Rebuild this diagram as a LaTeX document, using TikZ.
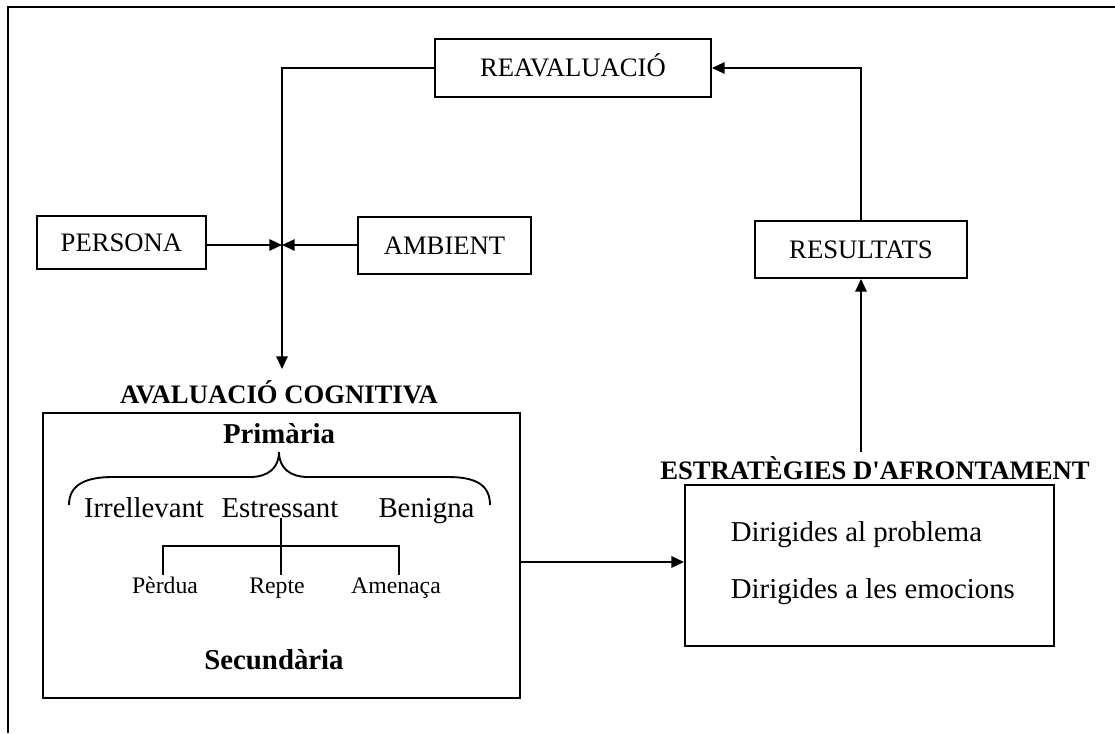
\documentclass[tikz,border=0pt]{standalone}
\usepackage{fontspec}
\setmainfont{Liberation Serif}
\usetikzlibrary{arrows.meta}

\begin{document}
\begin{tikzpicture}[x=0.75pt, y=-0.75pt, line width=1.4pt]
        \tikzstyle{every node}=[inner sep=0pt, font=\fontsize{20}{24}\selectfont]
        \tikzstyle{caixa}=[draw, text height=13.2pt, text depth=0pt]
        \tikzstyle{titol}=[anchor=base, font=\fontsize{20}{24}\selectfont\bfseries]
        \tikzstyle{titolgran}=[anchor=base, font=\fontsize{21.6}{26}\selectfont\bfseries]
        \tikzstyle{nivell}=[anchor=base, font=\fontsize{21.6}{26}\selectfont]
        \tikzstyle{petit}=[anchor=base, font=\fontsize{17.8}{21}\selectfont]
        \tikzstyle{fletxa}=[-{Triangle[length=9.5pt, width=8.5pt]}]

        \useasboundingbox (0,0) rectangle (1115,733);
        \draw (8,733) -- (8,7) -- (1115,7);

% Boxes of the model of appraisal and coping.

        \node[caixa, minimum width=207pt, minimum height=43.5pt] (reav) at (573,68) {REAVALUACIÓ};
        \node[caixa, minimum width=126.75pt, minimum height=39.75pt] (persona) at (121.5,242.5) {PERSONA};
        \node[caixa, minimum width=129.75pt, minimum height=42.75pt] (ambient) at (444.5,245.5) {AMBIENT};
        \node[caixa, minimum width=159pt, minimum height=42.75pt] (resultats) at (861,249.5) {RESULTATS};
        \node[draw, minimum width=357.75pt, minimum height=213.75pt] (aval) at (281.5,555.5) {};
        \node[draw, minimum width=276.75pt, minimum height=120.75pt] (estrat) at (869.5,565.5) {};

        \node[titol] (titolcog) at (279,403) {AVALUACIÓ COGNITIVA};
        \node[titolgran] (primaria) at (279,443) {Primària};
        \node[nivell] (irrellevant) at (144,517) {Irrellevant};
        \node[nivell] (estressant) at (280,517) {Estressant};
        \node[nivell] (benigna) at (426.5,517) {Benigna};
        \node[petit] (perdua) at (165,593) {Pèrdua};
        \node[petit] (repte) at (277,593) {Repte};
        \node[petit] (amenaca) at (396,593) {Amenaça};
        \node[titolgran] (secundaria) at (274,669) {Secundària};
        \node[titol] (titolestr) at (875,479) {ESTRATÈGIES D\textquotesingle AFRONTAMENT};
        \node[nivell, anchor=base west] (problema) at (730,541) {Dirigides al problema};
        \node[nivell, anchor=base west] (emocions) at (730,598) {Dirigides a les emocions};

        \coordinate (cruilla) at (282,245);
        \coordinate (punta) at (282,369);
        \coordinate (altura) at (600,562);
        \coordinate (inici) at (861,452);
        \coordinate (arrel) at (281,518);
        \coordinate (branca) at (281,546);
        \coordinate (peu) at (281,575);
        \coordinate (bperdua) at (163,575);
        \coordinate (bamenaca) at (399,575);

        \draw[fletxa] (reav.west) -| (punta);
        \draw[fletxa] (persona.east |- cruilla) -- (cruilla);
        \draw[fletxa] (ambient.west |- cruilla) -- (cruilla);
        \draw[fletxa] (aval.east |- altura) -- (estrat.west |- altura);
        \draw[fletxa] (inici) -- (inici |- resultats.south);
        \draw[fletxa] (resultats.north) |- (reav.east);

        \draw (69,505) .. controls (69,485) and (85,477) .. (113,477) -- (250,477)
              .. controls (268,477) and (279,468) .. (279,452)
              .. controls (279,468) and (290,477) .. (308,477) -- (448,477)
              .. controls (476,477) and (490,485) .. (490,505);
        \draw (arrel) -- (peu);
        \draw (bperdua) |- (branca) -| (bamenaca);

    \end{tikzpicture}
\end{document}
